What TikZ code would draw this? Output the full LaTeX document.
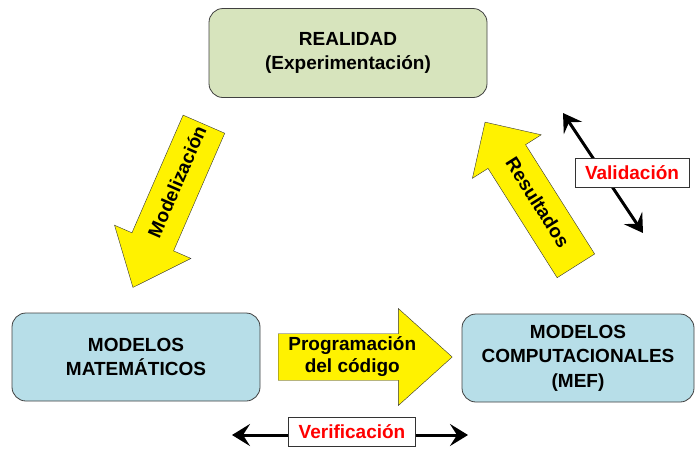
\documentclass[tikz,border=0pt]{standalone}
\usepackage{fontspec}
\setmainfont{Liberation Sans}
\usetikzlibrary{shapes.arrows}
\usetikzlibrary{arrows.meta}
\usetikzlibrary{positioning}

\definecolor{verdeclaro}{HTML}{D7E4BD}
\definecolor{azulclaro}{HTML}{B7DEE8}

\tikzset{
  caja/.style={rectangle,draw=black!75,thick,rounded corners=14pt,align=center,font=\bfseries\fontsize{19}{24.5}\selectfont},
  flecha/.style={single arrow,draw=black!80,fill=yellow,align=center,inner sep=1pt,font=\bfseries\fontsize{19}{22}\selectfont},
  etiqueta/.style={rectangle,draw=black!80,fill=white,text=red,inner xsep=10pt,minimum height=29pt,font=\bfseries\fontsize{19}{22}\selectfont},
  doble/.style={line width=3pt,{Stealth[length=18pt,width=22pt,inset=7pt]}-{Stealth[length=18pt,width=22pt,inset=7pt]}}
}

\begin{document}
\begin{tikzpicture}[x=1pt,y=-1pt]
\useasboundingbox (0,0) rectangle (696,448);
% cajas
\path (348,53) node(real) [caja,fill=verdeclaro,minimum width=278pt,minimum height=89pt]{REALIDAD\\(Experimentación)};
\path (136,357) node(mate) [caja,fill=azulclaro,minimum width=248pt,minimum height=88pt]{MODELOS\\MATEMÁTICOS};
\path (578,358) node(comp) [caja,fill=azulclaro,minimum width=232pt,minimum height=88pt]{MODELOS\\COMPUTACIONALES\\(MEF)};
% flechas amarillas
\path (204,124) node(model) [flecha,anchor=tail,rotate=66.5,shape border rotate=180,text height=14pt,text depth=4pt,inner ysep=13.5pt,minimum height=178pt,single arrow head extend=19pt,single arrow tip angle=80]{\hspace*{12pt}Modelización\hspace*{-12pt}};
\path (576,266) node(resul) [flecha,anchor=tail,rotate=-57.7,shape border rotate=180,text height=14pt,text depth=4pt,inner ysep=13pt,minimum height=170pt,single arrow head extend=18.5pt,single arrow tip angle=90]{Resultados};
\path (278,357) node(progr) [flecha,anchor=tail,minimum height=174pt,minimum width=97pt,single arrow head extend=23pt,single arrow tip angle=84]{Programación\\del código};
% validacion y verificacion
\coordinate (valA) at (563,113);
\coordinate (valB) at (643,233);
\draw[doble] (valA) -- (valB);
\path (632,173) node(vali) [etiqueta]{Validación};
\coordinate (verA) at (232,435);
\coordinate (verB) at (468,435);
\draw[doble] (verA) -- (verB);
\path (352,432) node(veri) [etiqueta]{Verificación};
\end{tikzpicture}
\end{document}
